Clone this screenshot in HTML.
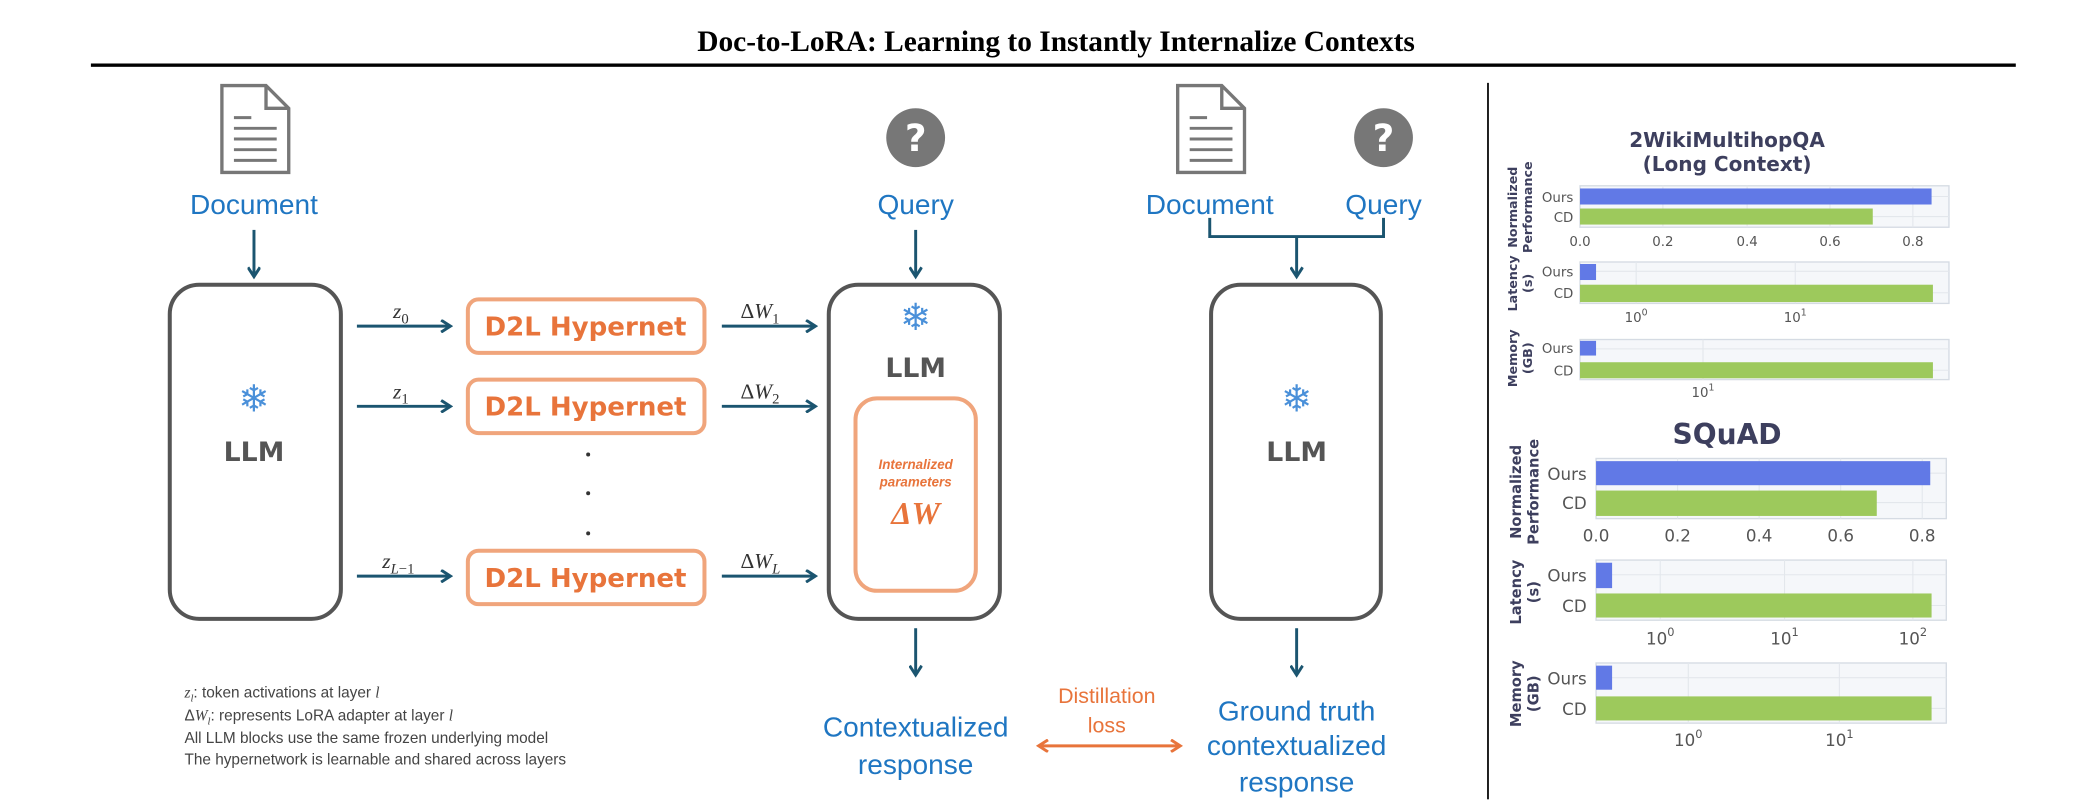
<!DOCTYPE html>
<html><head><meta charset="utf-8"><style>
html,body{margin:0;padding:0;background:#fff;width:2096px;height:806px;overflow:hidden}
svg{display:block}
.s{font-family:"Liberation Sans","DejaVu Sans",sans-serif}
.blue{fill:#1f76c2}
.org{fill:#e8743b}
.llm{font-family:"DejaVu Sans","Liberation Sans",sans-serif;font-weight:bold;font-size:20px;fill:#555;text-anchor:middle}
.snow{font-family:"DejaVu Sans",sans-serif;font-size:28px;fill:#4a90d9;text-anchor:middle}
.d2l{font-family:"DejaVu Sans","Liberation Sans",sans-serif;font-weight:bold;font-size:19.5px;fill:#e8743b;text-anchor:middle}
.m{font-family:"Liberation Serif",serif;font-style:italic;font-size:16px;fill:#333}
.ct{font-family:"DejaVu Sans",sans-serif;font-weight:bold;fill:#3d3f5e;text-anchor:middle}
.tk{font-family:"DejaVu Sans",sans-serif;fill:#555;}
.yl{font-family:"DejaVu Sans",sans-serif;font-weight:bold;fill:#3d3f5e;text-anchor:middle}
</style></head><body>
<svg width="2096" height="806" viewBox="0 0 1568 603" preserveAspectRatio="none" xmlns="http://www.w3.org/2000/svg">
<defs>
<marker id="ah" markerWidth="10" markerHeight="10" refX="8" refY="5" orient="auto" markerUnits="userSpaceOnUse">
<path d="M1,0.5 L8,5 L1,9.5" fill="none" stroke="#1b5570" stroke-width="2.2"/></marker>
<marker id="ao" markerWidth="10" markerHeight="10" refX="8" refY="5" orient="auto-start-reverse" markerUnits="userSpaceOnUse">
<path d="M1,0.5 L8,5 L1,9.5" fill="none" stroke="#e8743b" stroke-width="2.2"/></marker>
<g id="doc"><path d="M0,0 H33 L50,17 V65 H0 Z" fill="#fff" stroke="#777" stroke-width="2.5"/><path d="M33,0 V17 H50" fill="none" stroke="#777" stroke-width="2.5"/>
<path d="M9,24 H22 M9,32 H41 M9,40 H41 M9,48 H41 M9,56 H41" stroke="#777" stroke-width="2.2"/></g>
<g id="q"><circle r="22" fill="#777"/><text y="10" text-anchor="middle" font-family="DejaVu Sans,sans-serif" font-weight="bold" font-size="28" fill="#fff">?</text></g>
</defs>

<text x="790" y="38" text-anchor="middle" font-family="Liberation Serif,serif" font-weight="bold" font-size="22">Doc-to-LoRA: Learning to Instantly Internalize Contexts</text>
<rect x="68" y="47.5" width="1440" height="2.5" fill="#000"/>
<rect x="1112.5" y="62" width="1.3" height="536" fill="#000"/>

<use href="#doc" x="166" y="64"/>
<use href="#q" x="685" y="103"/>
<text class="s blue" x="190" y="160" text-anchor="middle" font-size="21">Document</text>
<text class="s blue" x="685" y="160" text-anchor="middle" font-size="21">Query</text>
<g stroke="#1b5570" stroke-width="2.2" fill="none">
<line x1="190" y1="172" x2="190" y2="207" marker-end="url(#ah)"/>
<line x1="685" y1="172" x2="685" y2="207" marker-end="url(#ah)"/>
<line x1="267" y1="244" x2="337" y2="244" marker-end="url(#ah)"/>
<line x1="267" y1="304" x2="337" y2="304" marker-end="url(#ah)"/>
<line x1="267" y1="431" x2="337" y2="431" marker-end="url(#ah)"/>
<line x1="540" y1="244" x2="610" y2="244" marker-end="url(#ah)"/>
<line x1="540" y1="304" x2="610" y2="304" marker-end="url(#ah)"/>
<line x1="540" y1="431" x2="610" y2="431" marker-end="url(#ah)"/>
<line x1="685" y1="470" x2="685" y2="505" marker-end="url(#ah)"/>
<line x1="970" y1="470" x2="970" y2="505" marker-end="url(#ah)"/>
<path d="M905,163 V177 H1035 V163"/>
<line x1="970" y1="177" x2="970" y2="207" marker-end="url(#ah)"/>
</g>
<rect x="127" y="213" width="128" height="250" rx="22" fill="none" stroke="#555" stroke-width="3"/>
<text class="snow" x="190" y="308">❄</text>
<text class="llm" x="190" y="345">LLM</text>

<text class="m" x="294" y="238">z<tspan font-style="normal" font-size="11" dy="4">0</tspan></text>
<text class="m" x="294" y="298">z<tspan font-style="normal" font-size="11" dy="4">1</tspan></text>
<text class="m" x="286" y="425">z<tspan font-size="11" dy="4">L</tspan><tspan font-style="normal" font-size="11">−1</tspan></text>
<text class="m" x="554" y="238"><tspan font-style="normal">Δ</tspan>W<tspan font-style="normal" font-size="11" dy="4">1</tspan></text>
<text class="m" x="554" y="298"><tspan font-style="normal">Δ</tspan>W<tspan font-style="normal" font-size="11" dy="4">2</tspan></text>
<text class="m" x="554" y="425"><tspan font-style="normal">Δ</tspan>W<tspan font-size="11" dy="4">L</tspan></text>

<g fill="none" stroke="#f0a57c" stroke-width="3">
<rect x="350" y="224" width="177" height="40" rx="8"/>
<rect x="350" y="284" width="177" height="40" rx="8"/>
<rect x="350" y="412" width="177" height="40" rx="8"/>
</g>
<text class="d2l" x="438" y="251">D2L Hypernet</text>
<text class="d2l" x="438" y="311">D2L Hypernet</text>
<text class="d2l" x="438" y="439">D2L Hypernet</text>
<circle cx="440" cy="340" r="1.5" fill="#333"/><circle cx="440" cy="369" r="1.5" fill="#333"/><circle cx="440" cy="399" r="1.5" fill="#333"/>

<rect x="620" y="213" width="128" height="250" rx="22" fill="none" stroke="#555" stroke-width="3"/>
<text class="snow" x="685" y="247">❄</text>
<text class="llm" x="685" y="282">LLM</text>
<rect x="640" y="298" width="90" height="144" rx="16" fill="none" stroke="#f0a57c" stroke-width="3"/>
<text x="685" y="351" text-anchor="middle" font-family="Liberation Sans,sans-serif" font-style="italic" font-weight="bold" font-size="10" class="org">Internalized</text>
<text x="685" y="364" text-anchor="middle" font-family="Liberation Sans,sans-serif" font-style="italic" font-weight="bold" font-size="10" class="org">parameters</text>
<text x="685" y="392" text-anchor="middle" font-family="Liberation Serif,serif" font-style="italic" font-weight="bold" font-size="24" class="org">ΔW</text>

<text class="s blue" x="685" y="551" text-anchor="middle" font-size="21">Contextualized</text>
<text class="s blue" x="685" y="579" text-anchor="middle" font-size="21">response</text>
<text class="s org" x="828" y="526" text-anchor="middle" font-size="16">Distillation</text>
<text class="s org" x="828" y="548" text-anchor="middle" font-size="16">loss</text>
<line x1="777" y1="558" x2="883" y2="558" stroke="#e8743b" stroke-width="2.2" marker-start="url(#ao)" marker-end="url(#ao)"/>

<use href="#doc" x="881" y="64"/>
<use href="#q" x="1035" y="103"/>
<text class="s blue" x="905" y="160" text-anchor="middle" font-size="21">Document</text>
<text class="s blue" x="1035" y="160" text-anchor="middle" font-size="21">Query</text>
<rect x="906" y="213" width="127" height="250" rx="22" fill="none" stroke="#555" stroke-width="3"/>
<text class="snow" x="970" y="308">❄</text>
<text class="llm" x="970" y="345">LLM</text>
<text class="s blue" x="970" y="539" text-anchor="middle" font-size="21">Ground truth</text>
<text class="s blue" x="970" y="565" text-anchor="middle" font-size="21">contextualized</text>
<text class="s blue" x="970" y="592" text-anchor="middle" font-size="21">response</text>

<g class="s" font-size="11.5" fill="#444">
<text x="138" y="522"><tspan font-family="Liberation Serif,serif" font-style="italic">z</tspan><tspan font-family="Liberation Serif,serif" font-style="italic" font-size="8" dy="3">l</tspan><tspan dy="-3">: token activations at layer </tspan><tspan font-family="Liberation Serif,serif" font-style="italic">l</tspan></text>
<text x="138" y="539">Δ<tspan font-family="Liberation Serif,serif" font-style="italic">W</tspan><tspan font-family="Liberation Serif,serif" font-style="italic" font-size="8" dy="3">l</tspan><tspan dy="-3">: represents LoRA adapter at layer </tspan><tspan font-family="Liberation Serif,serif" font-style="italic">l</tspan></text>
<text x="138" y="556">All LLM blocks use the same frozen underlying model</text>
<text x="138" y="572">The hypernetwork is learnable and shared across layers</text>
</g>

<text class="ct" x="1292" y="110" font-size="15">2WikiMultihopQA</text>
<text class="ct" x="1292" y="128" font-size="15">(Long Context)</text>
<g stroke="#d5dbe3" stroke-width="1">
<rect x="1182" y="139" width="276" height="31" fill="#f5f7fa"/>
<rect x="1182" y="196" width="276" height="31" fill="#f5f7fa"/>
<rect x="1182" y="254" width="276" height="30" fill="#f5f7fa"/>
<rect x="1194" y="343" width="262" height="45" fill="#f5f7fa"/>
<rect x="1194" y="419" width="262" height="45" fill="#f5f7fa"/>
<rect x="1194" y="496" width="262" height="45" fill="#f5f7fa"/>
</g>
<g stroke="#e3e7ec" stroke-width="0.8">
<path d="M1244,139V170M1307,139V170M1369,139V170M1431,139V170M1182,147H1458M1182,162H1458"/>
<path d="M1224,196V227M1343,196V227M1182,203H1458M1182,219H1458"/>
<path d="M1274,254V284M1182,261H1458M1182,277H1458"/>
<path d="M1255,343V388M1316,343V388M1377,343V388M1438,343V388M1194,354H1456M1194,376H1456"/>
<path d="M1242,419V464M1335,419V464M1431,419V464M1194,430H1456M1194,453H1456"/>
<path d="M1263,496V541M1376,496V541M1194,507H1456M1194,530H1456"/>
</g>
<g>
<rect x="1182" y="141" width="263" height="12" fill="#6179e6"/>
<rect x="1182" y="156" width="219" height="12" fill="#9dc95c"/>
<rect x="1182" y="197.5" width="12" height="12" fill="#6179e6"/>
<rect x="1182" y="213" width="264" height="13" fill="#9dc95c"/>
<rect x="1182" y="255" width="12" height="11" fill="#6179e6"/>
<rect x="1182" y="271" width="264" height="12" fill="#9dc95c"/>
<rect x="1194" y="345" width="250" height="18" fill="#6179e6"/>
<rect x="1194" y="367" width="210" height="19" fill="#9dc95c"/>
<rect x="1194" y="421" width="12" height="19" fill="#6179e6"/>
<rect x="1194" y="444" width="251" height="18" fill="#9dc95c"/>
<rect x="1194" y="498" width="12" height="18" fill="#6179e6"/>
<rect x="1194" y="521" width="251" height="18" fill="#9dc95c"/>
</g>
<g class="tk" font-size="10" text-anchor="end">
<text x="1177" y="151">Ours</text><text x="1177" y="166">CD</text>
<text x="1177" y="207">Ours</text><text x="1177" y="223">CD</text>
<text x="1177" y="264">Ours</text><text x="1177" y="281">CD</text>
</g>
<g class="tk" font-size="10" text-anchor="middle">
<text x="1182" y="184">0.0</text><text x="1244" y="184">0.2</text><text x="1307" y="184">0.4</text><text x="1369" y="184">0.6</text><text x="1431" y="184">0.8</text>
<text x="1224" y="241">10<tspan font-size="7" dy="-5">0</tspan></text>
<text x="1343" y="241">10<tspan font-size="7" dy="-5">1</tspan></text>
<text x="1274" y="297">10<tspan font-size="7" dy="-5">1</tspan></text>
</g>
<g class="yl" font-size="9.5">
<text transform="translate(1135,155) rotate(-90)">Normalized</text>
<text transform="translate(1146,155) rotate(-90)">Performance</text>
<text transform="translate(1135,212) rotate(-90)">Latency</text>
<text transform="translate(1146,212) rotate(-90)">(s)</text>
<text transform="translate(1135,268) rotate(-90)">Memory</text>
<text transform="translate(1146,268) rotate(-90)">(GB)</text>
</g>

<text class="ct" x="1292" y="332" font-size="21">SQuAD</text>
<g class="tk" font-size="12.5" text-anchor="end">
<text x="1187" y="359">Ours</text><text x="1187" y="381">CD</text>
<text x="1187" y="435">Ours</text><text x="1187" y="458">CD</text>
<text x="1187" y="512">Ours</text><text x="1187" y="535">CD</text>
</g>
<g class="tk" font-size="12.5" text-anchor="middle">
<text x="1194" y="405">0.0</text><text x="1255" y="405">0.2</text><text x="1316" y="405">0.4</text><text x="1377" y="405">0.6</text><text x="1438" y="405">0.8</text>
<text x="1242" y="482">10<tspan font-size="8.5" dy="-6">0</tspan></text>
<text x="1335" y="482">10<tspan font-size="8.5" dy="-6">1</tspan></text>
<text x="1431" y="482">10<tspan font-size="8.5" dy="-6">2</tspan></text>
<text x="1263" y="558">10<tspan font-size="8.5" dy="-6">0</tspan></text>
<text x="1376" y="558">10<tspan font-size="8.5" dy="-6">1</tspan></text>
</g>
<g class="yl" font-size="11">
<text transform="translate(1138,368) rotate(-90)">Normalized</text>
<text transform="translate(1151,368) rotate(-90)">Performance</text>
<text transform="translate(1138,443) rotate(-90)">Latency</text>
<text transform="translate(1151,443) rotate(-90)">(s)</text>
<text transform="translate(1138,519) rotate(-90)">Memory</text>
<text transform="translate(1151,519) rotate(-90)">(GB)</text>
</g>
</svg>
</body></html>
